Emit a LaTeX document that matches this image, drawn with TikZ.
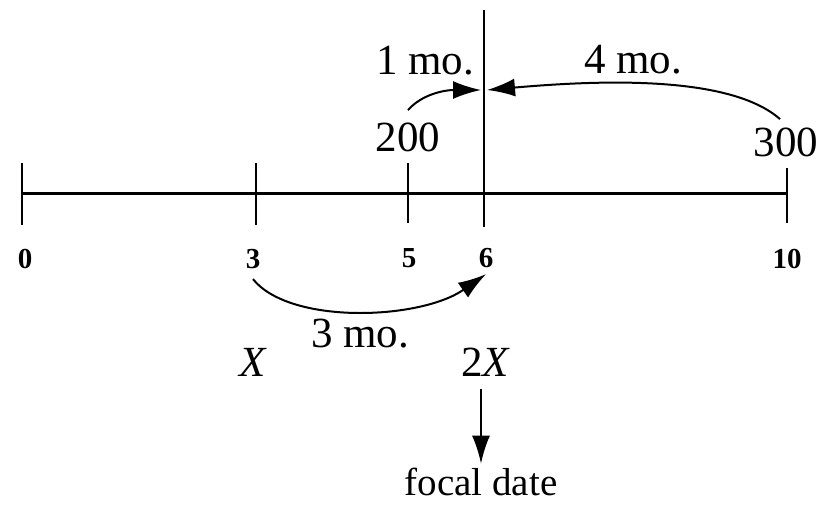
\documentclass[tikz,border=0pt]{standalone}
\usepackage{fontspec}
\setmainfont{Liberation Serif}
\usetikzlibrary{arrows.meta, calc}

\begin{document}
\begin{tikzpicture}[
    x=0.5pt, y=-0.5pt,
    big/.style={font=\fontsize{21.5}{24}\selectfont, inner sep=2pt},
    small/.style={font=\fontsize{14.5}{16}\selectfont\bfseries, inner sep=2pt},
    axis/.style={line width=1.5pt},
    tickmark/.style={line width=1.1pt},
    arr/.style={-{Latex[length=14pt, width=9pt]}, line width=1pt}
  ]
    \useasboundingbox (0,0) rectangle (821,505);

    % time line and focal line
    \draw[axis] (22,193) -- (788,193);
    \draw[tickmark] (22,163) -- (22,225);
    \draw[tickmark] (256,163) -- (256,225);
    \draw[tickmark] (408,163) -- (408,223);
    \draw[tickmark] (787,168) -- (787,223);
    \draw[line width=1pt] (484,10) -- (484,227);

    \node[small] (t0)  at (25,259)  {0};
    \node[small] (t3)  at (253,259) {3};
    \node[small] (t5)  at (409,258) {5};
    \node[small] (t6)  at (486,258) {6};
    \node[small] (t10) at (787,259) {10};

    \node[big] (n200) at (408,137) {200};
    \node[big] (n300) at (786,142) {300};
    \node[big] (m1)   at (425,61)  {1 mo.};
    \node[big] (m4)   at (633,60)  {4 mo.};
    \node[big] (m3)   at (360,334) {3 mo.};
    \node[big] (x1)   at (253,362) {\textit{X}};
    \node[big] (x2)   at (486,362) {2\textit{X}};
    \node[big, font=\fontsize{19.5}{22}\selectfont] (focal) at (481,482) {focal date};

    \coordinate (hitL) at (481,90);
    \coordinate (hitR) at (487,90);

    \draw[arr] ([yshift=4pt]n200.north) .. controls (422,94) and (445,90) .. (hitL);
    \draw[arr] ([xshift=-3pt,yshift=2pt]n300.north) .. controls (730,75) and (600,80) .. (hitR);
    \draw[arr] ([yshift=-3pt]t3.south) .. controls (290,325) and (420,320) .. ([yshift=-1pt]t6.south);
    \draw[arr] ([yshift=-4pt]focal.north |- x2.south) -- (focal.north);
  \end{tikzpicture}
\end{document}
